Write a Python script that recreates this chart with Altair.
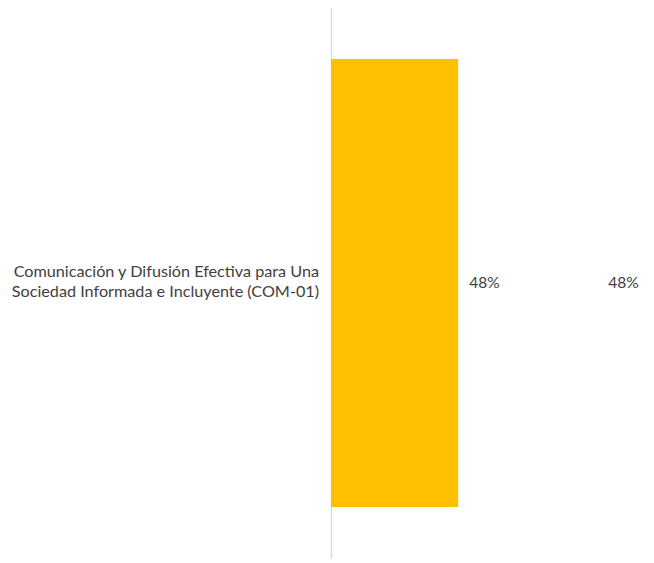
import altair as alt
import pandas as pd

categories = ["Comunicación y Difusión Efectiva para Una\nSociedad Informada e Incluyente (COM-01)"]
values = [0.48]
labels = ["48%"]

df = pd.DataFrame({"cat": categories, "val": values, "lab": labels})

FONT = "Lato"

base = alt.Chart(df).encode(
    y=alt.Y("cat:N", axis=alt.Axis(labels=False, ticks=False, title=None, domainColor="#d9d9d9", domainWidth=1.5, grid=False),
            scale=alt.Scale(paddingInner=0, paddingOuter=0.114)),
)

bars = base.mark_bar(color="#FFC000").encode(
    x=alt.X("val:Q", axis=None, scale=alt.Scale(domain=[0, 1.17], nice=False))
)

lab1 = base.mark_text(align="left", dx=11, font=FONT, fontSize=15.5, color="#404040").encode(
    x=alt.X("val:Q"), text="lab:N"
)
lab2 = base.mark_text(align="left", dx=150, font=FONT, fontSize=15.5, color="#404040").encode(
    x=alt.X("val:Q"), text="lab:N"
)
catlab = base.mark_text(align="right", dy=-11, font=FONT, fontSize=16.2, color="#404040", lineBreak="\n", lineHeight=20).encode(
    x=alt.value(-12), text="cat:N"
)

chart = alt.layer(bars, lab1, lab2, catlab).properties(
    width=310, height=550,
    padding={"left": 323, "top": 0, "right": 0, "bottom": 0},
    autosize=alt.AutoSizeParams(type="none"),
).configure_view(stroke=None)

chart.save("out.html", embed_options={"renderer": "svg", "actions": False})
